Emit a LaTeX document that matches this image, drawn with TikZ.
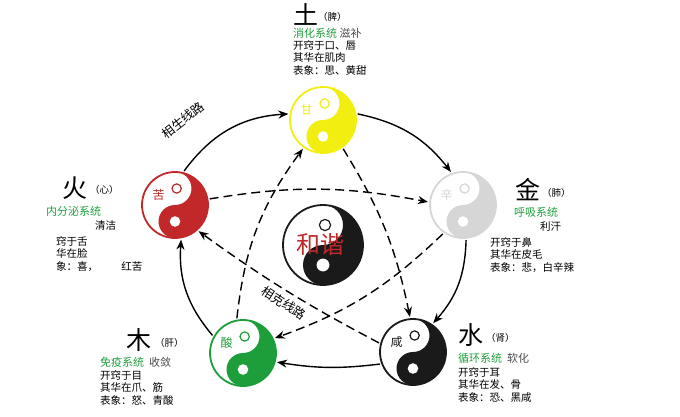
\documentclass[tikz,border=0pt]{standalone}
\usepackage{fontspec}
\setmainfont{Noto Sans CJK SC}
\usetikzlibrary{arrows.meta}
\definecolor{tgreen}{HTML}{1E9E3A}
\definecolor{tred}{HTML}{C0282A}
\definecolor{tyel}{HTML}{F2EE10}
\definecolor{tgray}{HTML}{D6D6D6}
\definecolor{tblk}{HTML}{1A1A1A}
\newcommand\mytaiji[5]{%
\begin{scope}[shift={(#1,#2)},yscale=-1]
\fill[white] (0,0) circle[radius=#3];
\fill[#4] (0,#3) arc[start angle=90,end angle=-90,radius=#3] arc[start angle=-90,end angle=-270,radius=#3/2] arc[start angle=-90,end angle=90,radius=#3/2] -- cycle;
\draw[#4,line width=1.8pt] (0,0) circle[radius=#3];
\fill[white] (0,-#3/2) circle[radius=#3*0.16];
\draw[#4,fill=white,line width=1.2pt] (0.05*#3,#3/2) circle[radius=#3*0.14];
\node[#4,font=\fontsize{12}{12}\selectfont] at (-0.5*#3,0.3*#3) {#5};
\end{scope}}
\begin{document}
\begin{tikzpicture}[x=1pt,y=-1pt,
  sm/.style={anchor=west,inner sep=0,font=\fontsize{10.5}{12.8}\selectfont,align=left},
  big/.style={anchor=west,inner sep=0,font=\fontsize{25}{25}\selectfont},
  par/.style={anchor=west,inner sep=0,font=\fontsize{9.5}{9.5}\selectfont},
  sys/.style={anchor=west,inner sep=0,text=tgreen,font=\fontsize{11}{11}\selectfont},
  ring/.style={circle,minimum size=70pt,inner sep=0},
  sheng/.style={-{Stealth[length=10pt,width=8pt]},line width=1.4pt},
  ke/.style={-{Stealth[length=10pt,width=8pt]},line width=1.4pt,dash pattern=on 9pt off 5pt}]
\useasboundingbox (0,0) rectangle (680,416);
\mytaiji{323}{120}{33}{tyel}{甘}
\mytaiji{175}{205}{33}{tred}{苦}
\mytaiji{463}{205}{33}{tgray}{辛}
\mytaiji{243}{353}{33}{tgreen}{酸}
\mytaiji{413}{352}{33}{tblk}{咸}
\mytaiji{323}{245}{40}{tblk}{}
\node[text=tred,font=\fontsize{24}{24}\selectfont] (hx) at (320,244) {和谐};
\node[ring] (earth) at (323,120) {};
\node[ring] (fire) at (175,205) {};
\node[ring] (metal) at (463,205) {};
\node[ring] (wood) at (243,353) {};
\node[ring] (water) at (413,352) {};
% sheng
\draw[sheng] (fire.75) to[bend left=25] (earth.170);
\draw[sheng] (earth.10) to[bend left=20] (metal.110);
\draw[sheng] (metal.-85) to[bend left=20] (water.55);
\draw[sheng] (water.200) to[bend left=8] (wood.-15);
\draw[sheng] (wood.150) to[bend left=22] (fire.-80);
% ke
\draw[ke] (fire.10) to[bend left=10] (metal.175);
\draw[ke] (metal.-125) to[bend left=12] (wood.25);
\draw[ke] (wood.100) to[bend left=15] (earth.-125);
\draw[ke] (earth.-55) to[bend left=10] (water.95);
\draw[ke] (water.165) to[bend left=4] (fire.-48);
\node[font=\fontsize{12.5}{12.5}\selectfont,rotate=38] (ls) at (183,120) {相生线路};
\node[font=\fontsize{12.5}{12.5}\selectfont,rotate=-33] (lk) at (284,303) {相克线路};
% earth text
\node[big] (t1) at (293,14) {土};
\node[par] at (318,17) {（脾）};
\node[sys] at (293,33) {消化系统\ \textcolor{black!70}{滋补}};
\node[sm,anchor=north west] at (293,40) {开窍于口、唇\\其华在肌肉\\表象：思、黄甜};
% fire
\node[big] at (62,188) {火};
\node[par] at (90,190) {（心）};
\node[sys] at (46,211) {内分泌系统};
\node[sm] at (95,226) {清洁};
\node[sm,anchor=north west] at (56,236) {窍于舌\\华在脸\\象：喜，\hspace{2.2em}红苦};
% metal
\node[big] at (515,190) {金};
\node[par] at (542,193) {（肺）};
\node[sys] at (514,212) {呼吸系统};
\node[sm] at (540,227) {利汗};
\node[sm,anchor=north west] at (490,237) {开窍于鼻\\其华在皮毛\\表象：悲，白辛辣};
% wood
\node[big] at (126,340) {木};
\node[par] at (155,343) {（肝）};
\node[sys] at (100,362) {免疫系统\ \ \textcolor{black!70}{收敛}};
\node[sm,anchor=north west] at (100,370) {开窍于目\\其华在爪、筋\\表象：怒、青酸};
% water
\node[big] at (458,335) {水};
\node[par] at (486,338) {（肾）};
\node[sys] at (458,358) {循环系统\ \ \textcolor{black!70}{软化}};
\node[sm,anchor=north west] at (458,367) {开窍于耳\\其华在发、骨\\表象：恐、黑咸};
\end{tikzpicture}
\end{document}
